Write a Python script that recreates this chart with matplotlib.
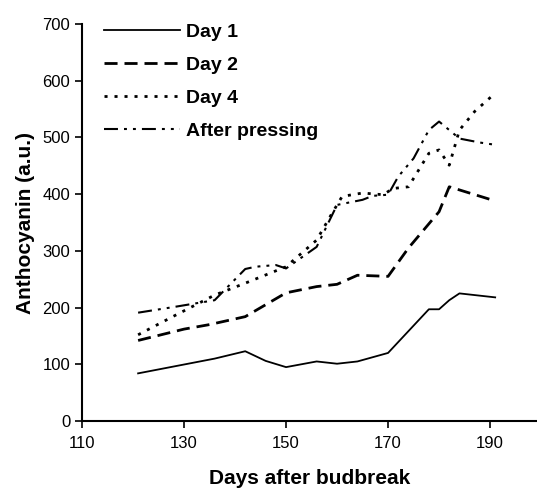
import matplotlib.pyplot as plt

# Anthocyanin vs days after budbreak
day1_x = [121, 136, 142, 146, 150, 156, 160, 164, 170, 178, 180, 182, 184, 191]
day1_y = [84, 110, 123, 106, 95, 105, 101, 105, 120, 197, 197, 213, 225, 218]

day2_x = [121, 130, 135, 142, 150, 156, 160, 164, 170, 174, 180, 182, 191]
day2_y = [142, 162, 170, 184, 226, 237, 241, 257, 255, 305, 369, 413, 388]

day4_x = [121, 128, 136, 142, 150, 156, 159, 161, 165, 169, 171, 174, 178, 180, 182, 184, 187, 191]
day4_y = [152, 185, 222, 243, 272, 319, 366, 396, 402, 399, 410, 413, 472, 478, 451, 513, 546, 578]

press_x = [121, 128, 136, 142, 144, 148, 150, 156, 160, 165, 167, 170, 172, 175, 178, 180, 184, 188, 191]
press_y = [191, 201, 213, 268, 272, 275, 269, 307, 381, 390, 397, 399, 431, 463, 513, 528, 498, 491, 487]

plt.rcParams['font.family'] = ['Liberation Sans', 'DejaVu Sans']

fig = plt.figure(figsize=(5.37, 4.91), dpi=100)
ax = fig.add_axes([82 / 537, 70 / 491, (537 - 82) / 537, 397 / 491])

ax.plot(day1_x, day1_y, color='black', lw=1.3, label='Day 1')
ax.plot(day2_x, day2_y, color='black', lw=2.0, dashes=(4.7, 2.5), label='Day 2')
ax.plot(day4_x, day4_y, color='black', lw=2.0, dashes=(1.1, 2.5), label='Day 4')
ax.plot(press_x, press_y, color='black', lw=1.5,
        dashes=(6.7, 2.9, 1.4, 2.9, 1.4, 2.9), label='After pressing')

ax.set_xlim(110, 199.2)
ax.set_ylim(0, 700)
ax.set_xticks([110, 130, 150, 170, 190])
ax.set_yticks(range(0, 701, 100))
ax.tick_params(labelsize=12, direction='out', length=5, width=1.2)
ax.tick_params(axis='x', pad=6)
ax.spines['top'].set_visible(False)
ax.spines['right'].set_visible(False)
ax.spines['left'].set_linewidth(1.5)
ax.spines['bottom'].set_linewidth(1.5)

ax.set_xlabel('Days after budbreak', fontsize=15, fontweight='bold', labelpad=13)
ax.set_ylabel('Anthocyanin (a.u.)', fontsize=15, fontweight='bold', labelpad=5)

leg = ax.legend(loc='upper left', bbox_to_anchor=(0.01, 1.045), frameon=False,
                handlelength=3.9, handletextpad=0.3, labelspacing=0.78,
                prop={'size': 14, 'weight': 'bold'})

fig.savefig('out.png', dpi=100)
